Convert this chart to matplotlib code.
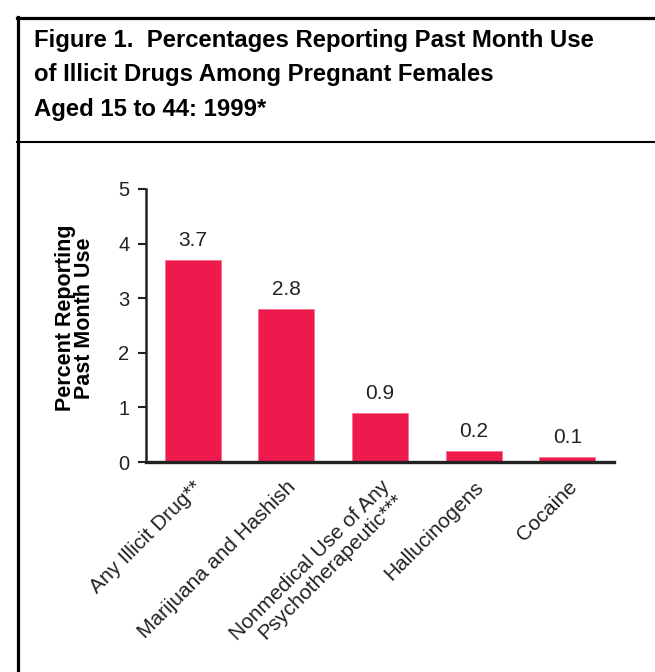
import matplotlib
matplotlib.use('Agg')
import matplotlib.pyplot as plt
from matplotlib.lines import Line2D

plt.rcParams['font.family'] = ['Liberation Sans', 'DejaVu Sans']

categories = ['Any Illicit Drug**', 'Marijuana and Hashish',
              'Nonmedical Use of Any\nPsychotherapeutic***',
              'Hallucinogens', 'Cocaine']
values = [3.7, 2.8, 0.9, 0.2, 0.1]
value_labels = ['3.7', '2.8', '0.9', '0.2', '0.1']
yticks = [0, 1, 2, 3, 4, 5]
title_lines = ['Figure 1.  Percentages Reporting Past Month Use',
               'of Illicit Drugs Among Pregnant Females',
               'Aged 15 to 44: 1999*']

W, H = 655, 672
fig = plt.figure(figsize=(W / 100, H / 100), dpi=100)

# frame lines (left + top border, divider under title)
fig.add_artist(Line2D([18 / W, 18 / W], [0, 1 - 17 / H], color='black', lw=2.3))
fig.add_artist(Line2D([17 / W, 1], [1 - 18 / H, 1 - 18 / H], color='black', lw=2.3))
fig.add_artist(Line2D([17 / W, 1], [1 - 142 / H, 1 - 142 / H], color='black', lw=1.5))

for i, line in enumerate(title_lines):
    fig.text(34 / W, 1 - (47 + 34.4 * i) / H, line, fontsize=17.2, fontweight='bold',
             va='baseline', ha='left')

ax = fig.add_axes([146 / W, 1 - 462 / H, 468 / W, 273 / H])
x = range(len(categories))
bars = ax.bar(x, values, width=0.6, color='#EE1A4D', edgecolor='#F4738F', linewidth=0.6)

for xi, v, lab in zip(x, values, value_labels):
    ax.annotate(lab, (xi, v), xytext=(0, 10), textcoords='offset points',
                ha='center', va='baseline', fontsize=15, color='#222222')

ax.set_xlim(-0.5, len(categories) - 0.5)
ax.set_ylim(0, 5)
ax.set_yticks(yticks)
ax.set_xticks(list(x))
ax.set_xticklabels(categories, rotation=45, ha='right', rotation_mode='anchor',
                   fontsize=15, color='#222222', linespacing=1.0)
ax.tick_params(axis='x', length=0, pad=11)
ax.tick_params(axis='y', length=6, width=1.5, color='#222222', labelsize=14.5,
               labelcolor='#222222', pad=6)
for s in ['top', 'right']:
    ax.spines[s].set_visible(False)
ax.spines['left'].set_linewidth(1.8)
ax.spines['bottom'].set_linewidth(2.4)
ax.spines['left'].set_color('#222222')
ax.spines['bottom'].set_color('#222222')

ax.set_ylabel('Percent Reporting\nPast Month Use', fontsize=15.5, fontweight='bold',
              linespacing=0.9)
ax.yaxis.set_label_coords(-0.109, 0.527)

fig.savefig('out.png', dpi=100)
